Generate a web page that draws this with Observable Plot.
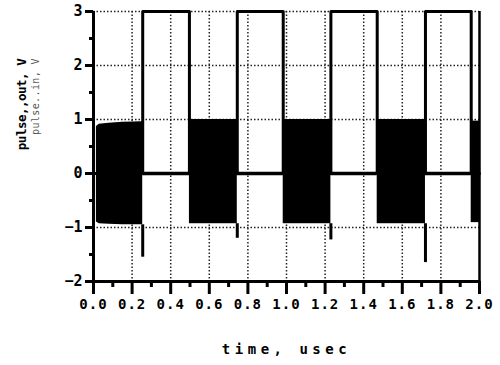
<!DOCTYPE html>
<html><head><meta charset="utf-8">
<script src="https://cdn.jsdelivr.net/npm/d3@7"></script>
<script src="https://cdn.jsdelivr.net/npm/@observablehq/plot@0.6"></script>
<style>body{margin:0;background:#fff} svg{display:block}</style>
</head><body><div id="chart"></div>
<script>
const xTicks = [0, 0.2, 0.4, 0.6, 0.8, 1.0, 1.2, 1.4, 1.6, 1.8, 2.0];
const xMinorTicks = [0.1, 0.3, 0.5, 0.7, 0.9, 1.1, 1.3, 1.5, 1.7, 1.9];
const yTicks = [-2, -1, 0, 1, 2, 3];
const yMinorTicks = [-1.5, -0.5, 0.5, 1.5, 2.5];
const xGrid = [0.2, 0.4, 0.6, 0.8, 1.0, 1.2, 1.4, 1.6, 1.8];
const yGrid = [-1, 1, 2, 3];

// pulse_out: RF bursts (envelope), zero between, downward spike at each burst end
const burstStart = [0.015, 0.497, 0.983, 1.470, 1.957];
const burstEnd = [0.255, 0.745, 1.230, 1.720, 2.000];
const burstTop = [0.95, 1.0, 1.0, 1.0, 0.97];
const burstBottom = [-0.95, -0.93, -0.93, -0.93, -0.91];
const spikeMin = [-1.55, -1.2, -1.23, -1.65];
// first burst envelope (rising edge)
const rampT = [0.015, 0.03, 0.08, 0.15, 0.255];
const rampTop = [0.87, 0.91, 0.93, 0.95, 0.96];
const rampBottom = [-0.9, -0.93, -0.94, -0.95, -0.95];

// pulse_in: square wave (high during gaps)
const inT = [0, 0.255, 0.497, 0.745, 0.983, 1.230, 1.470, 1.720, 1.957, 2.0];
const inV = [0, 3, 0, 3, 0, 3, 0, 3, 0, 0];

const bursts = burstStart.map((s, i) => ({s, e: burstEnd[i], hi: burstTop[i], lo: burstBottom[i]}));
const ramp = rampT.map((t, i) => ({t, hi: rampTop[i], lo: rampBottom[i]}));
const gaps = burstEnd.slice(0, -1).map((e, i) => ({x1: e, x2: burstStart[i + 1]}));
const spikes = spikeMin.map((m, i) => ({x: burstEnd[i], lo: burstBottom[i], m}));
const pin = inT.map((t, i) => ({t, v: inV[i]}));

const FONT = "DejaVu Sans Mono";
const XTITLE = "time, usec";
const YTITLE1 = "pulse,,out, V";
const YTITLE2 = "pulse..in, V";

const chart = Plot.plot({
  width: 500, height: 365,
  marginLeft: 93, marginRight: 21, marginTop: 11, marginBottom: 84,
  style: {fontFamily: FONT, background: "#fff", color: "#000"},
  x: {domain: [0, 2]},
  y: {domain: [-2, 3]},
  marks: [
    Plot.ruleY(yGrid, {stroke: "#222", strokeWidth: 1.5, strokeDasharray: "1.5,2"}),
    Plot.ruleX(xGrid, {stroke: "#222", strokeWidth: 1.5, strokeDasharray: "1.5,2"}),
    Plot.line(pin, {x: "t", y: "v", curve: "step-after", stroke: "#000", strokeWidth: 3}),
    Plot.rect(bursts.slice(1), {x1: "s", x2: "e", y1: "lo", y2: "hi", fill: "#000"}),
    Plot.areaY(ramp, {x: "t", y1: "lo", y2: "hi", fill: "#000"}),
    Plot.ruleY(gaps, {x1: "x1", x2: "x2", y: d => 0, stroke: "#000", strokeWidth: 3.5}),
    Plot.ruleX(spikes, {x: "x", y1: "lo", y2: "m", stroke: "#000", strokeWidth: 3}),
    Plot.ruleX([2], {stroke: "#000", strokeWidth: 2.5}),
    Plot.ruleX([0], {stroke: "#000", strokeWidth: 3}),
    Plot.ruleY([-2], {stroke: "#000", strokeWidth: 3}),
    Plot.axisY({ticks: yTicks, tickSize: 8, tickPadding: 3, strokeWidth: 3, fontSize: 15, fontWeight: "bold", tickFormat: d3.format("d"), label: null}),
    Plot.axisY({ticks: yMinorTicks, tickSize: 4, strokeWidth: 3, text: null, label: null}),
    Plot.axisX({ticks: xTicks, tickSize: 13, tickPadding: 5, strokeWidth: 3, fontSize: 14, fontWeight: "bold", tickFormat: d3.format(".1f"), label: null}),
    Plot.axisX({ticks: xMinorTicks, tickSize: 6, strokeWidth: 3, text: null, label: null}),
    Plot.text([XTITLE], {frameAnchor: "bottom", dy: 72, fontSize: 14, fontWeight: "bold"}),
    Plot.text([YTITLE1], {frameAnchor: "left", dx: -72, dy: -42, rotate: -90, textAnchor: "middle", fontSize: 12.5, fontWeight: "bold"}),
    Plot.text([YTITLE2], {frameAnchor: "left", dx: -58, dy: -50, rotate: -90, textAnchor: "middle", fontSize: 10, fill: "#555"})
  ]
});
document.getElementById("chart").appendChild(chart);
const svg = d3.select(chart);
svg.selectAll("text").each(function() {
  const t = this.textContent;
  const el = d3.select(this);
  if (t === XTITLE) el.attr("letter-spacing", "4.5");
  else if (t === YTITLE1) el.attr("letter-spacing", "-0.5");
  else if (t === YTITLE2) el.attr("letter-spacing", "0.4");
  else if (/^\d\.\d$/.test(t)) el.attr("letter-spacing", "1");
});
</script>
</body></html>
